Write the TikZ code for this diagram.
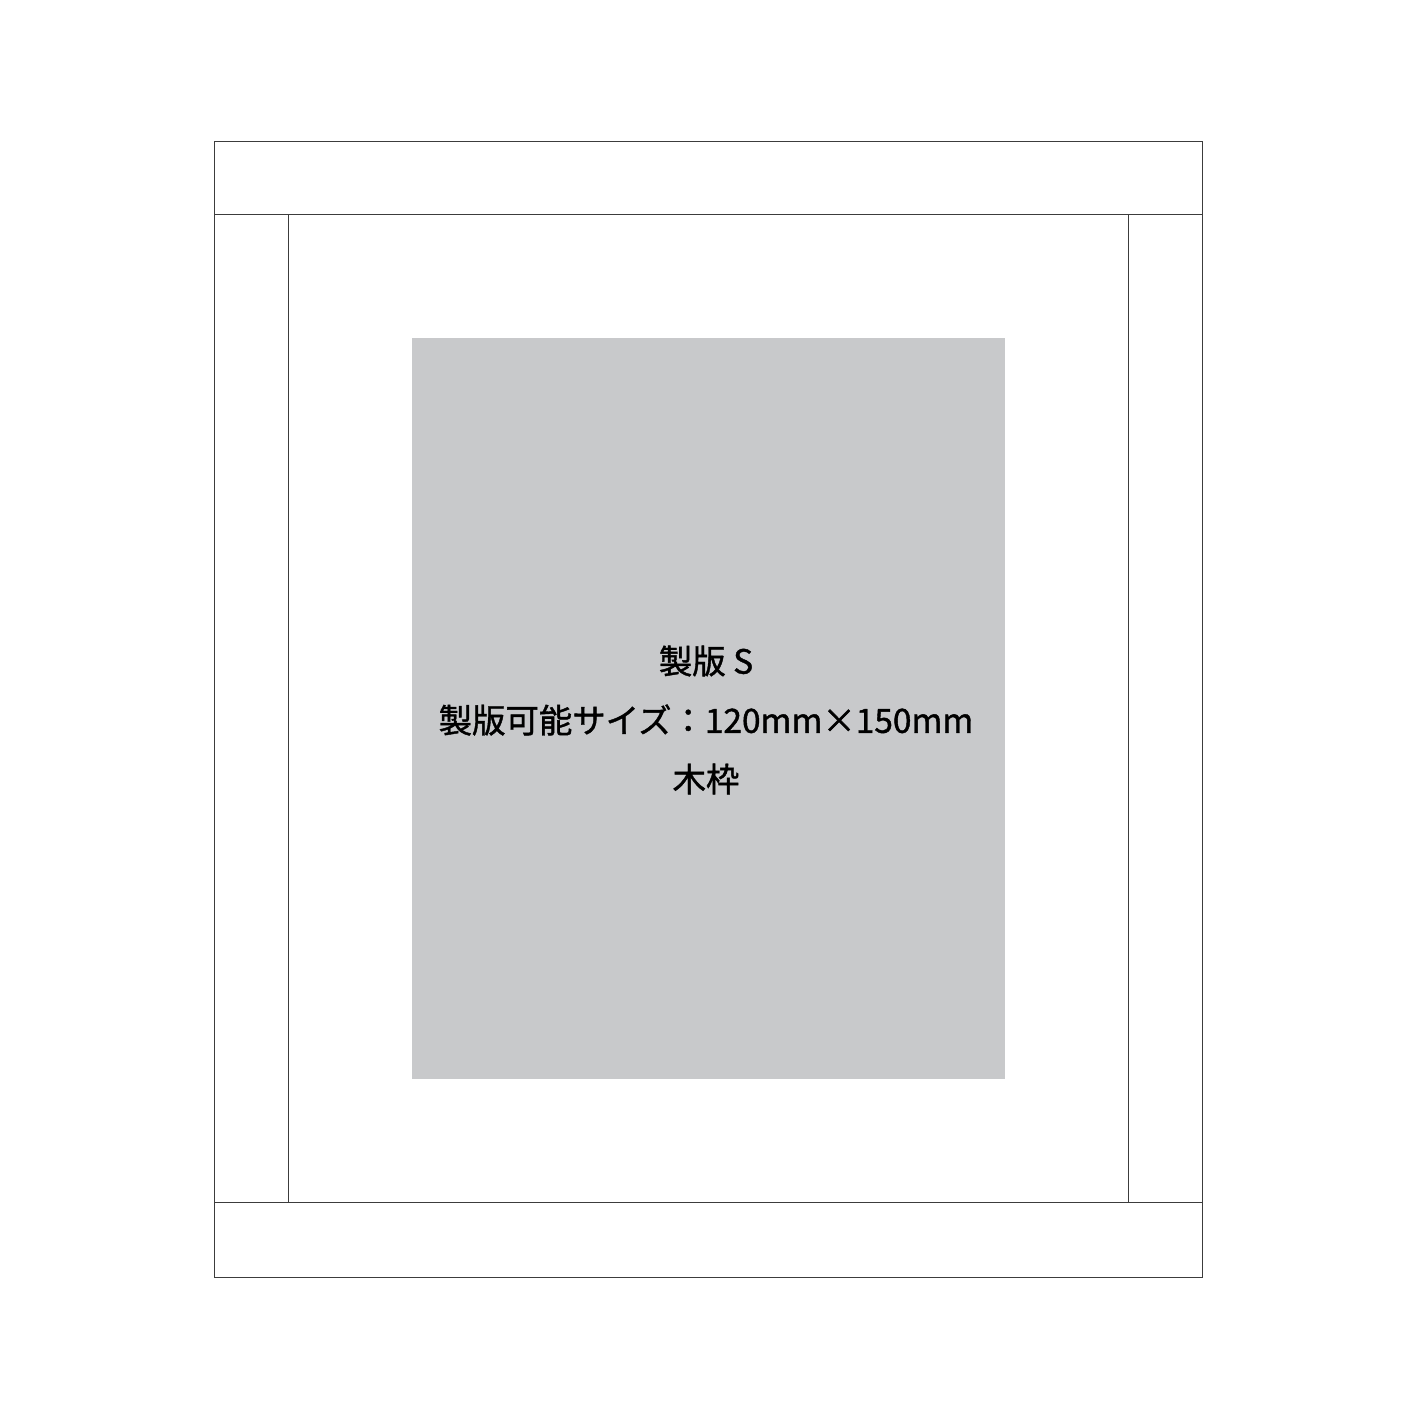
\documentclass[tikz,border=0pt]{standalone}
\usepackage{fontspec}
\setmainfont{Noto Sans CJK JP}
\newfontfamily\capfont{Noto Sans CJK JP}[FakeBold=1.2]
\usetikzlibrary{positioning}
\definecolor{plategray}{RGB}{200,201,203}
\definecolor{framegray}{RGB}{60,60,60}

\begin{document}
\begin{tikzpicture}[x=0.01cm, y=-0.01cm, frame/.style={draw=framegray, line width=0.25pt}, caption/.style={inner sep=0pt, font=\capfont\fontsize{9.5}{11}\selectfont}]
	\useasboundingbox (0,0) rectangle (1417,1417);
	% Frame
	\draw[frame] (214,141) rectangle (1202,214);
	\draw[frame] (214,1202) rectangle (1202,1277);
	\draw[frame] (214,214) rectangle (288,1202);
	\draw[frame] (1128,214) rectangle (1202,1202);
	
	% Printable area
	\fill[plategray] (412,338) rectangle (1005,1079);
	
	% Labels
	\node[caption] (size) at (706,720) {製版可能サイズ：120mm×150mm};
	\node[caption, above=0.59cm of size.center, anchor=center] (name) {製版 S};
	\node[caption, below=0.59cm of size.center, anchor=center] (wood) {木枠};
\end{tikzpicture}
\end{document}
